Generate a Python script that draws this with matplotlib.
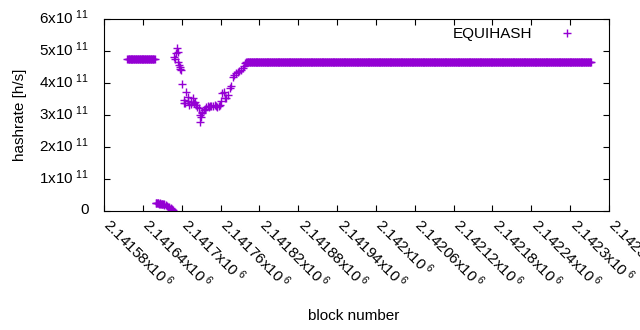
import numpy as np
import matplotlib
matplotlib.use("Agg")
import matplotlib.pyplot as plt
from matplotlib.transforms import ScaledTranslation

plt.rcParams['font.family'] = ['Liberation Sans', 'DejaVu Sans']
plt.rcParams['mathtext.fontset'] = 'custom'
plt.rcParams['mathtext.rm'] = 'Liberation Sans'
plt.rcParams['mathtext.it'] = 'Liberation Sans'
plt.rcParams['mathtext.bf'] = 'Liberation Sans'

# ---- data ----
# constant runs of consecutive blocks
run_first_block = [2141616, 2141800]
run_last_block = [2141658, 2142332]
run_hashrate = [4.75e11, 4.66e11]

# individually read blocks
point_blocks = [
    2141660, 2141661, 2141662, 2141663, 2141664, 2141665, 2141666, 2141667,
    2141668, 2141669, 2141670, 2141671, 2141672, 2141673, 2141675, 2141677,
    2141679, 2141681, 2141683, 2141685, 2141687,
    2141688, 2141689, 2141691, 2141693, 2141694, 2141695, 2141696, 2141697,
    2141698, 2141699, 2141701, 2141703, 2141704, 2141705, 2141707, 2141709,
    2141710, 2141712, 2141714, 2141715, 2141717, 2141719, 2141720, 2141722,
    2141724, 2141726, 2141728, 2141729, 2141730, 2141731, 2141732, 2141734,
    2141736, 2141738, 2141740, 2141742, 2141744, 2141746, 2141749, 2141751,
    2141753, 2141755, 2141757, 2141759, 2141761, 2141763, 2141765, 2141767,
    2141769, 2141771, 2141774, 2141776, 2141779, 2141781, 2141784, 2141787,
    2141789, 2141792, 2141795, 2141797, 2141798,
]
point_hashrate_e11 = [
    0.25, 0.25, 0.24, 0.24, 0.24, 0.23, 0.24, 0.23,
    0.23, 0.22, 0.22, 0.22, 0.21, 0.20, 0.18, 0.16,
    0.14, 0.12, 0.09, 0.06, 0.02,
    4.80, 4.75, 4.93, 5.08, 4.98, 4.67, 4.55, 4.51,
    4.45, 4.40, 3.96, 3.37, 3.47, 3.37, 3.73, 3.57,
    3.45, 3.31, 3.40, 3.35, 3.52, 3.38, 3.42, 3.30,
    3.24, 3.22, 2.79, 3.00, 2.95, 3.05, 3.10, 3.16,
    3.20, 3.25, 3.27, 3.26, 3.28, 3.29, 3.27, 3.30,
    3.28, 3.26, 3.28, 3.30, 3.45, 3.70, 3.72, 3.52,
    3.54, 3.62, 3.85, 3.90, 4.20, 4.25, 4.32, 4.35,
    4.38, 4.41, 4.46, 4.52, 4.63,
]

x_ticks = [2141580, 2141640, 2141700, 2141760, 2141820, 2141880, 2141940,
           2142000, 2142060, 2142120, 2142180, 2142240, 2142300, 2142360]
x_tick_mantissa = ['2.14158', '2.14164', '2.1417', '2.14176', '2.14182',
                   '2.14188', '2.14194', '2.142', '2.14206', '2.14212',
                   '2.14218', '2.14224', '2.1423', '2.14236']
y_ticks = [0, 1e11, 2e11, 3e11, 4e11, 5e11, 6e11]
y_tick_mantissa = ['0', '1', '2', '3', '4', '5', '6']

series_name = 'EQUIHASH'
color = '#9400D3'

# ---- assemble ----
blocks = []
rates = []
for b0, b1, v in zip(run_first_block, run_last_block, run_hashrate):
    bb = np.arange(b0, b1 + 1)
    blocks.append(bb)
    rates.append(np.full(bb.shape, v))
blocks.append(np.array(point_blocks))
rates.append(np.array(point_hashrate_e11) * 1e11)
blocks = np.concatenate(blocks)
rates = np.concatenate(rates)

fig = plt.figure(figsize=(6.4, 3.3), dpi=100)
ax = fig.add_axes([104 / 640, 1 - 211 / 330, 505 / 640, 192 / 330])

ax.plot(blocks, rates, linestyle='none', marker='+', markersize=5.5,
        markeredgewidth=1.0, color=color, label=series_name)

ax.set_xlim(x_ticks[0], x_ticks[-1])
ax.set_ylim(y_ticks[0], y_ticks[-1])

fs = 11
ax.set_yticks(y_ticks)
ax.set_yticklabels([m if m == '0' else m + 'x10$^{\\ 11}$' for m in y_tick_mantissa],
                   fontsize=fs)
ax.set_xticks(x_ticks)
ax.set_xticklabels([m + 'x10$^{\\ 6}$' for m in x_tick_mantissa], fontsize=fs,
                   rotation=-45, ha='left', va='center', rotation_mode='anchor')

ax.tick_params(direction='in', length=4, width=0.8, top=True, right=True,
               color='black')
ax.tick_params(axis='y', pad=11)
ax.tick_params(axis='x', pad=9)
for s in ax.spines.values():
    s.set_linewidth(0.8)

px = 72 / 100  # points per pixel
xoff = ScaledTranslation(3 * px / 72, 2 * px / 72, fig.dpi_scale_trans)
for lab in ax.get_xticklabels():
    lab.set_transform(lab.get_transform() + xoff)
yoff = ScaledTranslation(0, 3 * px / 72, fig.dpi_scale_trans)
for lab in ax.get_yticklabels():
    lab.set_transform(lab.get_transform() + yoff)

ax.set_ylabel('hashrate [h/s]', fontsize=fs)
ax.yaxis.set_label_coords(-0.153, 0.5)
ax.set_xlabel('block number', fontsize=fs)
ax.xaxis.set_label_coords(0.495, -0.51)

leg = ax.legend(loc='upper right', bbox_to_anchor=(0.9465, 0.958),
                markerfirst=False, frameon=False, fontsize=fs,
                handlelength=2, handletextpad=1.25, borderpad=0,
                borderaxespad=0)

fig.savefig('out.png', dpi=100)
